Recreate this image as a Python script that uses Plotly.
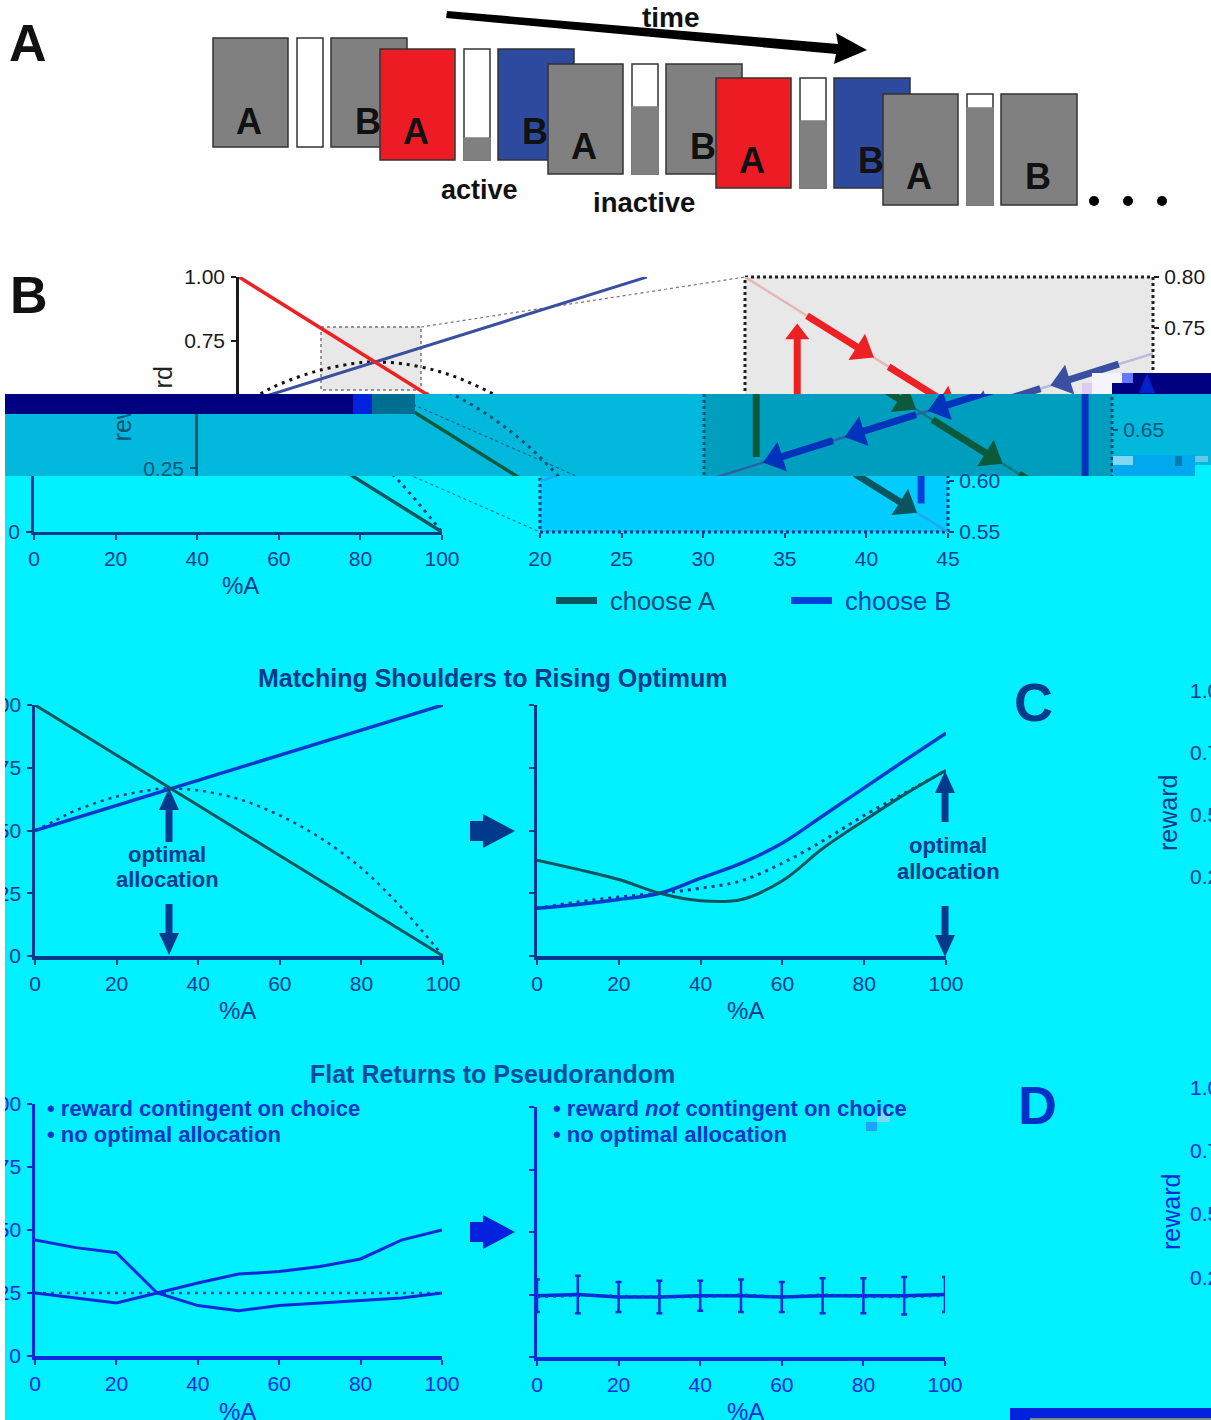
import plotly.graph_objects as go

W, H = 1211, 1420

# ---------- data ----------
pct = [0, 10, 20, 30, 40, 50, 60, 70, 80, 90, 100]
rising_a_x = [0, 100]
rising_a_y = [1.0, 0.0]
rising_b_x = [0, 100]
rising_b_y = [0.5, 1.0]
rising_opt_x = [0, 5, 10, 20, 30, 33, 40, 50, 60, 70, 80, 90, 100]
rising_opt_y = [0.5, 0.54, 0.58, 0.635, 0.665, 0.667, 0.66, 0.625, 0.56, 0.47, 0.35, 0.19, 0.0]

shoulder_a = [0.382, 0.345, 0.305, 0.25, 0.22, 0.225, 0.30, 0.43, 0.54, 0.645, 0.74]
shoulder_b = [0.19, 0.205, 0.225, 0.25, 0.31, 0.37, 0.45, 0.56, 0.67, 0.78, 0.888]
shoulder_opt = [0.19, 0.215, 0.235, 0.25, 0.27, 0.30, 0.37, 0.46, 0.56, 0.65, 0.74]

flat_a = [0.46, 0.43, 0.41, 0.25, 0.20, 0.18, 0.20, 0.21, 0.22, 0.23, 0.25]
flat_b = [0.25, 0.23, 0.21, 0.25, 0.29, 0.325, 0.335, 0.355, 0.385, 0.46, 0.50]
flat_opt = [0.25, 0.25, 0.25, 0.25, 0.25, 0.25, 0.25, 0.25, 0.25, 0.25, 0.25]
pseudo_a = [0.245, 0.25, 0.24, 0.24, 0.245, 0.245, 0.24, 0.245, 0.245, 0.245, 0.25]
pseudo_b = [0.24, 0.245, 0.245, 0.24, 0.24, 0.25, 0.24, 0.25, 0.24, 0.24, 0.245]
pseudo_err = [0.065, 0.075, 0.06, 0.065, 0.06, 0.065, 0.06, 0.07, 0.07, 0.075, 0.07]

seg_a = [[23.8, 27.8], [28.8, 32.9], [34.0, 38.2], [39.3, 43.0]]
seg_b = [[42.9, 38.9], [38.1, 33.9], [33.0, 28.8], [27.9, 23.8]]
rise_a = dict(x=23.2, y0=0.6235, y1=0.756)
rise_b = dict(x=43.35, y0=0.578, y1=0.694)

x_ticks = [0, 20, 40, 60, 80, 100]
y_ticks = [0, 0.25, 0.5, 0.75, 1.0]
y_labels = ["0", "0.25", "0.50", "0.75", "1.00"]
zoom_x_ticks = [20, 25, 30, 35, 40, 45]
zoom_y_ticks = [0.55, 0.60, 0.65, 0.70, 0.75, 0.80]
zoom_y_labels = ["0.55", "0.60", "0.65", "", "0.75", "0.80"]

NAVY = "#003A8C"
CYAN = "#00F0FF"
FONT = "Liberation Sans"
DOTS = "3px,5px"

layout = dict(
    width=W, height=H, margin=dict(l=0, r=0, t=0, b=0, autoexpand=False),
    paper_bgcolor="white", plot_bgcolor="rgba(0,0,0,0)",
    showlegend=False, font=dict(family=FONT, size=21, color="#222"),
)
traces, shapes, annots = [], [], []
n_ax = 0


def fx(px):
    return px / W


def fy(px):
    return 1 - px / H


def axes(xpx, ypx, xr, yr, xa=None, ya=None):
    global n_ax
    n_ax += 1
    s = "" if n_ax == 1 else str(n_ax)
    x = dict(domain=[fx(xpx[0]), fx(xpx[1])], range=xr, anchor="y" + s,
             showgrid=False, zeroline=False, visible=True, showticklabels=False, ticks="")
    y = dict(domain=[fy(ypx[1]), fy(ypx[0])], range=yr, anchor="x" + s,
             showgrid=False, zeroline=False, visible=True, showticklabels=False, ticks="")
    x.update(xa or {})
    y.update(ya or {})
    layout["xaxis" + s] = x
    layout["yaxis" + s] = y
    return "x" + s, "y" + s


def xa_style(color, ticks=x_ticks, width=3, standoff=1):
    return dict(showline=True, linecolor=color, linewidth=width, ticks="outside", ticklen=5,
                tickwidth=2, tickcolor=color, tickvals=ticks, ticktext=[str(t) for t in ticks],
                showticklabels=True, ticklabelstandoff=standoff, tickfont=dict(size=21, color=color))


def ya_style(color, labels=True, vals=y_ticks, text=y_labels, width=2.5, standoff=2):
    return dict(showline=True, linecolor=color, linewidth=width, ticks="outside", ticklen=5,
                tickwidth=2, tickcolor=color, tickvals=vals, ticktext=text,
                showticklabels=labels, ticklabelstandoff=standoff, tickfont=dict(size=21, color=color))


def line(xa, ya, x, y, color, width=2.5, dash=None, mode="lines", shape="linear", **kw):
    traces.append(go.Scatter(x=x, y=y, xaxis=xa, yaxis=ya, mode=mode, hoverinfo="skip",
                             line=dict(color=color, width=width, dash=dash, shape=shape), **kw))


def rect_fill(xa, ya, x0, x1, y0, y1, fill, border=None, bw=2, dash="dot"):
    traces.append(go.Scatter(
        x=[x0, x1, x1, x0, x0], y=[y0, y0, y1, y1, y0], xaxis=xa, yaxis=ya, mode="lines",
        fill="toself", fillcolor=fill, hoverinfo="skip",
        line=dict(color=border or "rgba(0,0,0,0)", width=bw if border else 0, dash=dash)))


def text(px, py, s, size=21, color="#222", bold=False, anchor="center"):
    annots.append(dict(xref="paper", yref="paper", x=fx(px), y=fy(py), text=f"<b>{s}</b>" if bold else s,
                       showarrow=False, xanchor=anchor, yanchor="middle",
                       font=dict(size=size, color=color, family=FONT)))


def poly(points, color, layer="above"):
    path = "M" + " L".join(f"{fx(a):.5f},{fy(b):.5f}" for a, b in points) + " Z"
    shapes.append(dict(type="path", xref="paper", yref="paper", path=path, fillcolor=color,
                       line=dict(width=0), layer=layer))


def box(x0, y0, x1, y1, fill, border=None, bw=1, layer="above"):
    shapes.append(dict(type="rect", xref="paper", yref="paper", x0=fx(x0), x1=fx(x1), y0=fy(y1), y1=fy(y0),
                       fillcolor=fill, line=dict(color=border or fill, width=bw if border else 0), layer=layer))


# ---------- panel B, cut in three strips that are displaced sideways ----------
STRIPS = [
    dict(top=0, bot=394, off=0, bg="white", zoom_bg="#E8E8E8", small_bg="#E8E8E8", ax="#1A1A1A", txt="#222222",
         a="#EE2024", b="#3B4FA0", ap="#E8B4B4", bp="#B9B9DC", dash="#111111", dots="#222222", guide="#777777",
         rise_b="#D8C8EE", word="rd", word_y=381),
    dict(top=394, bot=476, off=41, bg="#00B8DC", zoom_bg="#009EBE", small_bg="#00B8DC", ax="#005577", txt="#005577",
         a="#0B5A3C", b="#0033BB", ap="#0A7C80", bp="#2A62A8", dash="#00506E", dots="#00506E", guide="#00608A",
         rise_b="#0033BB", word="rew", word_y=425),
    dict(top=476, bot=620, off=205, bg=CYAN, zoom_bg="#00CCFF", small_bg=CYAN, ax=NAVY, txt=NAVY,
         a="#0B5560", b="#0040DD", ap="#20A8F0", bp="#20A8F0", dash=NAVY, dots=NAVY, guide="#0070E0",
         rise_b="#0040DD", word=None, word_y=0),
]

L0, L1 = 239, 647   # left chart x=0 / x=100 in the un-displaced strip
R0, R1 = 745, 1153  # right chart x=20 / x=45
YT, YB = 277, 532


def left_val(px):
    return 1 - (px - YT) / (YB - YT)


def right_val(px):
    return 0.8 - 0.25 * (px - YT) / (YB - YT)


for st in STRIPS:
    off = st["off"]
    # strip canvas: axis in un-displaced pixels
    cv_ya = {}
    if st["word"]:
        cv_ya = dict(anchor="free", position=fx(177 - off), tickvals=[st["word_y"]], ticktext=[st["word"]],
                     tickangle=-90, showticklabels=True, ticks="", showline=False,
                     tickfont=dict(size=25, color=st["txt"]))
    cx, cy = axes([0, W], [st["top"], st["bot"]], [off, off + W], [st["bot"], st["top"]], ya=cv_ya)
    rect_fill(cx, cy, off, off + W, st["top"], st["bot"], st["bg"])
    # magnified window and its source rectangle
    rect_fill(cx, cy, 321, 421, 327, 390, st["small_bg"], st["guide"], 1.5)
    rect_fill(cx, cy, R0, R1, YT, YB, st["zoom_bg"], st["dots"], 3)
    line(cx, cy, [421, R0], [327, YT], st["guide"], 1.2, "dot")
    line(cx, cy, [421, R0], [390, YB], st["guide"], 1.2, "dot")

    ytop, ybot = max(st["top"], YT), min(st["bot"], YB)
    has_x = st["bot"] > YB

    # left chart
    lx, ly = axes([L0 - off, L1 - off], [ytop, ybot], [0, 100], [left_val(ybot), left_val(ytop)],
                  xa=xa_style(st["ax"]) if has_x else None, ya=ya_style(st["ax"]))
    line(lx, ly, rising_opt_x, rising_opt_y, st["dash"], 3, DOTS, shape="spline")
    line(lx, ly, rising_b_x, rising_b_y, st["b"], 3)
    line(lx, ly, rising_a_x, rising_a_y, st["a"], 3.5)

    # right chart
    xa = xa_style(st["ax"], zoom_x_ticks, standoff=3) if has_x else {}
    xa.update(showline=False)
    ya = ya_style(st["ax"], vals=zoom_y_ticks, text=zoom_y_labels, standoff=1)
    ya.update(side="right", showline=False)
    rx, ry = axes([R0 - off, R1 - off], [ytop, ybot], [20, 45], [right_val(ybot), right_val(ytop)], xa=xa, ya=ya)
    line(rx, ry, rising_a_x, rising_a_y, st["ap"], 2.5)
    line(rx, ry, rising_b_x, rising_b_y, st["bp"], 2.5)
    for s0, s1 in seg_a:
        line(rx, ry, [s0, s1 - 0.5], [1 - s0 / 100, 1 - (s1 - 0.5) / 100], st["a"], 7)
        traces.append(go.Scatter(x=[s1 - 0.6], y=[1 - (s1 - 0.6) / 100], xaxis=rx, yaxis=ry, mode="markers",
                                 hoverinfo="skip", marker=dict(symbol="triangle-up", size=27, angle=122,
                                                               color=st["a"], line=dict(width=0))))
    for s0, s1 in seg_b:
        line(rx, ry, [s0, s1 + 0.5], [0.5 + s0 / 200, 0.5 + (s1 + 0.5) / 200], st["b"], 7)
        traces.append(go.Scatter(x=[s1 + 0.6], y=[0.5 + (s1 + 0.6) / 200], xaxis=rx, yaxis=ry, mode="markers",
                                 hoverinfo="skip", marker=dict(symbol="triangle-up", size=27, angle=252.6,
                                                               color=st["b"], line=dict(width=0))))
    line(rx, ry, [rise_a["x"]] * 2, [rise_a["y0"], rise_a["y1"] - 0.012], st["a"], 7)
    traces.append(go.Scatter(x=[rise_a["x"]], y=[rise_a["y1"] - 0.012], xaxis=rx, yaxis=ry, mode="markers",
                             hoverinfo="skip", marker=dict(symbol="triangle-up", size=21, color=st["a"],
                                                           line=dict(width=0))))
    line(rx, ry, [rise_b["x"]] * 2, [rise_b["y0"], rise_b["y1"]], st["rise_b"], 7)

# ---------- panels C and D ----------
cx1, cy1 = axes([35, 443], [705, 956], [0, 100], [0, 1],
                xa=xa_style(NAVY, width=3.5), ya=ya_style(NAVY))
line(cx1, cy1, rising_opt_x, rising_opt_y, NAVY, 2.5, DOTS, shape="spline")
line(cx1, cy1, rising_b_x, rising_b_y, "#0038D0", 3.5)
line(cx1, cy1, rising_a_x, rising_a_y, "#0B5560", 3)

cx2, cy2 = axes([537, 946], [705, 956], [0, 100], [0, 1],
                xa=xa_style(NAVY, width=3.5), ya=ya_style(NAVY, labels=False))
line(cx2, cy2, pct, shoulder_opt, NAVY, 3, DOTS, shape="spline")
line(cx2, cy2, pct, shoulder_b, "#0038D0", 3.5, shape="spline")
line(cx2, cy2, pct, shoulder_a, "#0B5560", 3, shape="spline")

DBLUE = "#0A28DC"
dx1, dy1 = axes([35, 442], [1104, 1356], [0, 100], [0, 1],
                xa=xa_style(DBLUE, width=3.5), ya=ya_style(DBLUE))
line(dx1, dy1, pct, flat_opt, "#0040C8", 2.5, DOTS)
line(dx1, dy1, pct, flat_a, DBLUE, 3)
line(dx1, dy1, pct, flat_b, DBLUE, 3)

dx2, dy2 = axes([537, 945], [1107, 1357], [0, 100], [0, 1],
                xa=xa_style(DBLUE, width=3.5), ya=ya_style(DBLUE, labels=False))
traces.append(go.Scatter(x=pct, y=pseudo_a, xaxis=dx2, yaxis=dy2, mode="lines", hoverinfo="skip", cliponaxis=False,
                         line=dict(color=DBLUE, width=3.5),
                         error_y=dict(type="data", array=pseudo_err, color=DBLUE, thickness=2.5, width=3)))
line(dx2, dy2, pct, pseudo_b, "#0040C8", 2.5, DOTS)

# ---------- panel A ----------
GRAY = "#808080"
BORDER = "#333333"
RED = "#ED1C24"
BLUE = "#2E4A9E"
rows = [
    dict(y0=38, y1=147, x=213, fill=GRAY, level=None),
    dict(y0=49, y1=160, x=380, fill=RED, b_fill=BLUE, level=138),
    dict(y0=64, y1=174, x=548, fill=GRAY, level=107),
    dict(y0=78, y1=188, x=716, fill=RED, b_fill=BLUE, level=121),
    dict(y0=94, y1=205, x=883, fill=GRAY, level=108),
]
for r in rows:
    x = r["x"]
    box(x, r["y0"], x + 75, r["y1"], r["fill"], BORDER, 1.5)
    box(x + 84, r["y0"], x + 110, r["y1"], "white", BORDER, 1.5)
    if r["level"]:
        box(x + 84, r["level"], x + 110, r["y1"], GRAY, GRAY, 1.5)
    box(x + 118, r["y0"], x + 194, r["y1"], r.get("b_fill", GRAY), BORDER, 1.5)
    my = r["y0"] + 83
    text(x + 36, my, "A", 36, "#111", True)
    text(x + 155, my, "B", 36, "#111", True)

poly([(447, 11), (838, 44), (836, 33), (867, 50), (834, 64), (836, 54), (446, 18)], "#000000")
text(671, 18, "time", 28, "#111", True)
text(479, 190, "active", 27, "#111", True)
text(644, 202, "inactive", 27.5, "#111", True)
for dx in (1094, 1128, 1162):
    shapes.append(dict(type="circle", xref="paper", yref="paper", x0=fx(dx - 5), x1=fx(dx + 5),
                       y0=fy(206), y1=fy(196), fillcolor="#000", line=dict(width=0), layer="above"))
text(28, 43, "A", 52, "#111", True)
text(29, 295, "B", 52, "#111", True)

# ---------- damaged blocks of the picture ----------
box(0, 394, 5, 1420, "white")
box(5, 394, 353, 414, "#000080")
box(353, 394, 372, 414, "#0022DD")
box(372, 394, 415, 414, "#006E90")
box(1092, 373, 1122, 394, "#F4F4FF")
box(1082, 383, 1092, 394, "#DCCCF0")
box(1122, 373, 1133, 383, "#6677FF")
box(1133, 373, 1211, 383, "#000080")
box(1112, 383, 1211, 394, "#000080")
poly([(1147, 373), (1155, 393), (1139, 393)], "#0022CC")
box(1113, 455, 1195, 476, "#00A8F0")
box(1195, 465, 1211, 476, CYAN)
box(1113, 456, 1133, 465, "#80D8F0")
box(1175, 456, 1182, 466, "#007CB0")
box(1195, 456, 1208, 462, "#60C8E8")
box(866, 1122, 877, 1131, "#20A0FF")
box(877, 1110, 890, 1122, "#80D8FF")
box(1010, 1408, 1211, 1420, "#0022DD")
box(1030, 1418, 1211, 1420, "#808890")

# ---------- legend, labels and arrows on the cyan part ----------
text(240, 585, "%A", 24, NAVY)
box(556, 597, 597, 604, "#0B5560")
text(608, 601, "choose A", 25.5, "#00487C", anchor="left")
box(791, 597, 832, 604, "#0040DD")
text(843, 601, "choose B", 25.5, "#0040AA", anchor="left")

text(492, 678, "Matching Shoulders to Rising Optimum", 25, NAVY, True)
text(1033, 702, "C", 54, NAVY, True)
text(237, 1010, "%A", 24, NAVY)
text(745, 1010, "%A", 24, NAVY)
text(167, 854, "optimal", 22, NAVY, True)
text(167, 880, "allocation", 22, NAVY, True)
text(948, 845, "optimal", 22, NAVY, True)
text(948, 871, "allocation", 22, NAVY, True)


def arrow_up(x, tip, tail, color):
    poly([(x - 3.5, tail), (x - 3.5, tip + 22), (x - 10, tip + 22), (x, tip), (x + 10, tip + 22),
          (x + 3.5, tip + 22), (x + 3.5, tail)], color)


def arrow_down(x, tail, tip, color):
    poly([(x - 3.5, tail), (x - 3.5, tip - 22), (x - 10, tip - 22), (x, tip), (x + 10, tip - 22),
          (x + 3.5, tip - 22), (x + 3.5, tail)], color)


def block_arrow(xl, xr, yc, color):
    poly([(xl, yc - 10), (xl + 13, yc - 10), (xl + 13, yc - 17), (xr, yc), (xl + 13, yc + 17),
          (xl + 13, yc + 10), (xl, yc + 10)], color)


arrow_up(169, 788, 842, NAVY)
arrow_down(169, 904, 955, NAVY)
arrow_up(945, 771, 822, NAVY)
arrow_down(945, 906, 957, NAVY)
block_arrow(470, 515, 831, NAVY)
block_arrow(470, 515, 1232, "#0022DD")

text(1168, 813, "reward", 25, NAVY)
annots[-1]["textangle"] = -90
for lab, py in (("1.00", 690), ("0.75", 752), ("0.50", 814), ("0.25", 877)):
    text(1188, py, lab, 21, NAVY, anchor="left")

text(492, 1074, "Flat Returns to Pseudorandom", 25, "#004AA0", True)
text(1037, 1105, "D", 54, "#0030C8", True)
text(45, 1108, "• reward contingent on choice", 22, "#0036C8", True, "left")
text(45, 1134, "• no optimal allocation", 22, "#0036C8", True, "left")
text(551, 1108, "• reward <i>not</i> contingent on choice", 22, "#0036C8", True, "left")
text(551, 1134, "• no optimal allocation", 22, "#0036C8", True, "left")
text(237, 1411, "%A", 24, DBLUE)
text(745, 1411, "%A", 24, DBLUE)
text(1171, 1212, "reward", 25, DBLUE)
annots[-1]["textangle"] = -90
for lab, py in (("1.00", 1087), ("0.75", 1150), ("0.50", 1213), ("0.25", 1277)):
    text(1188, py, lab, 21, DBLUE, anchor="left")

# the cyan below the bottom strip reaches the foot of the page
shapes.insert(0, dict(type="rect", xref="paper", yref="paper", x0=0, x1=1, y0=0, y1=fy(619),
                      fillcolor=CYAN, line=dict(width=0), layer="below"))

layout["shapes"] = shapes
layout["annotations"] = annots
fig = go.Figure(data=traces, layout=layout)
fig.write_html("out.html", config=dict(displayModeBar=False),
               post_script="document.body.style.margin='0';document.body.style.overflow='hidden';")
